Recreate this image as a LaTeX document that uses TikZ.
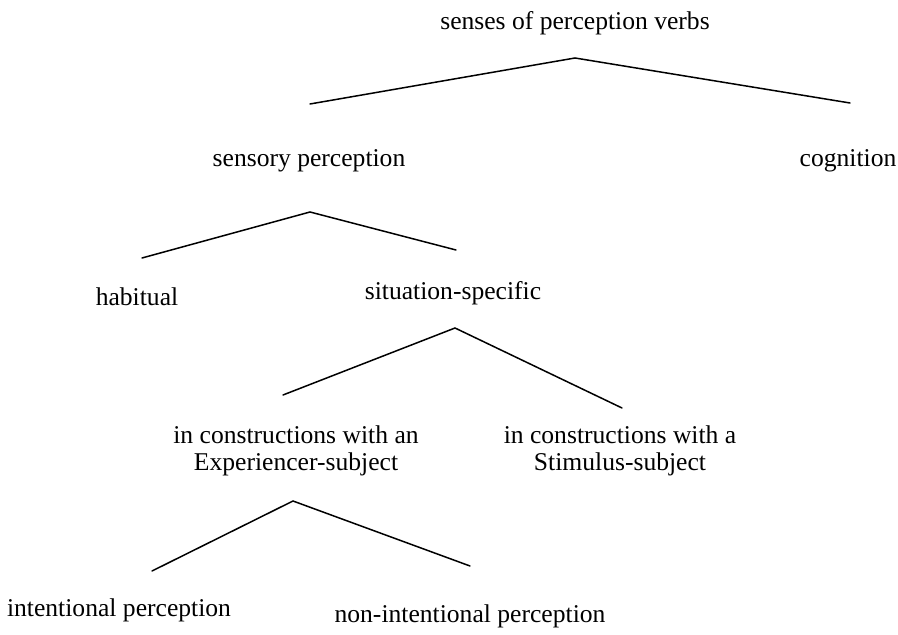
\documentclass[tikz,border=0pt]{standalone}
\usepackage{fontspec}
\setmainfont{Liberation Serif}
\begin{document}
\begin{tikzpicture}[x=0.5pt,y=-0.5pt,
  lbl/.style={font=\fontsize{12.8}{13.5}\selectfont, inner sep=0pt, align=center},
  branch/.style={line width=0.75pt, line cap=round, line join=miter}]
\useasboundingbox (0,0) rectangle (898,635);
% labels
\node[lbl] (top) at (575,23) {senses of perception verbs};
\node[lbl] (sp) at (309,161) {sensory perception};
\node[lbl] (cog) at (848,161) {cognition};
\node[lbl] (hab) at (137,297) {habitual};
\node[lbl] (sit) at (453,293) {situation-specific};
\node[lbl] (exp) at (296,451) {in constructions with an\\Experiencer-subject};
\node[lbl] (stim) at (620,451) {in constructions with a\\Stimulus-subject};
\node[lbl] (int) at (119,610) {intentional perception};
\node[lbl] (nonint) at (470,616) {non-intentional perception};
% branch points
\coordinate (a1) at (575,58);
\coordinate (l1) at (310,104);
\coordinate (r1) at (850,103);
\coordinate (a2) at (310,212);
\coordinate (l2) at (142,258);
\coordinate (r2) at (456,250);
\coordinate (a3) at (455,328);
\coordinate (l3) at (283,395);
\coordinate (r3) at (622,408);
\coordinate (a4) at (293,501);
\coordinate (l4) at (152,571);
\coordinate (r4) at (470,566);
\draw[branch] (l1) -- (a1) -- (r1);
\draw[branch] (l2) -- (a2) -- (r2);
\draw[branch] (l3) -- (a3) -- (r3);
\draw[branch] (l4) -- (a4) -- (r4);
\end{tikzpicture}
\end{document}
